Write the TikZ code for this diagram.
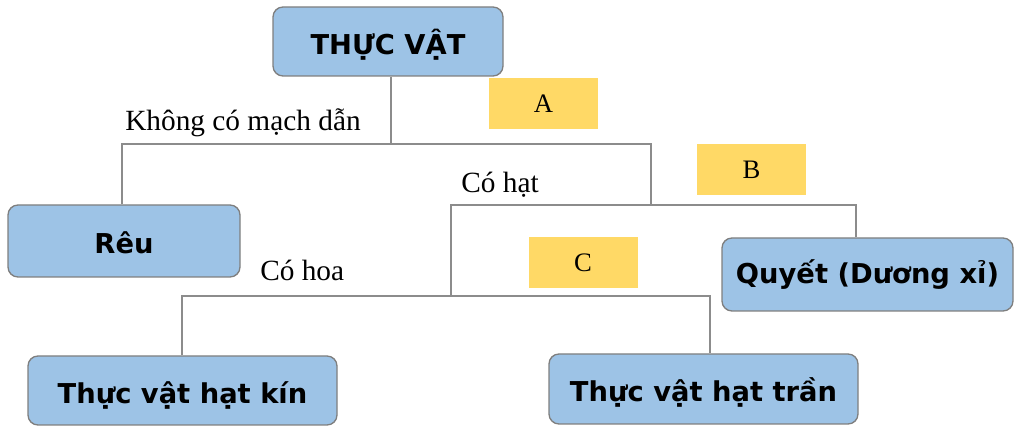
\documentclass[tikz,border=0pt]{standalone}
\usepackage{fontspec}
\setmainfont{Liberation Serif}
\newfontfamily\boxfont{DejaVu Sans}
\definecolor{boxblue}{HTML}{9DC3E6}
\definecolor{boxedge}{HTML}{7F7F7F}
\definecolor{tagyellow}{HTML}{FFD966}
\definecolor{linegrey}{HTML}{8C8C8C}
\begin{document}
\begin{tikzpicture}[x=0.75pt,y=-0.75pt,
  taxon/.style={draw=boxedge,line width=1pt,fill=boxblue,rounded corners=7.5pt,
    inner sep=0pt,text height=19.5pt,text depth=0pt,
    font=\boxfont\bfseries\fontsize{20.5}{24}\selectfont},
  tag/.style={fill=tagyellow,inner sep=0pt,minimum width=81.75pt,minimum height=38.75pt,
    font=\fontsize{20}{24}\selectfont},
  branch/.style={font=\fontsize{22}{26}\selectfont,inner sep=0pt,anchor=west},
  link/.style={draw=linegrey,line width=1.3pt}]
\useasboundingbox (0,0) rectangle (1015,427);

% taxa boxes
\node[taxon,minimum width=172.5pt,minimum height=51.75pt] (root) at (388,41.5) {THỰC VẬT};
\node[taxon,minimum width=174pt,minimum height=54pt] (reu) at (124,241) {Rêu};
\node[taxon,minimum width=218.25pt,minimum height=54.75pt,text height=14pt] (quyet) at (867.5,274.5) {Quyết (Dương xỉ)};
\node[taxon,minimum width=231.75pt,minimum height=51.75pt] (kin) at (182.5,390.5) {Thực vật hạt kín};
\node[taxon,minimum width=231.75pt,minimum height=52.5pt] (tran) at (703.5,389) {Thực vật hạt trần};

% letter tags
\node[tag] (tA) at (543.5,103.5) {A};
\node[tag] (tB) at (751.5,169.5) {B};
\node[tag] (tC) at (583,262.5) {C};

% branch junctions
\coordinate (j1) at (391,144);
\coordinate (j1l) at (122,144);
\coordinate (j1r) at (651,144);
\coordinate (j2) at (651,205);
\coordinate (j2l) at (451,205);
\coordinate (j2r) at (856,205);
\coordinate (j3) at (451,296);
\coordinate (j3l) at (182,296);
\coordinate (j3r) at (710,296);

% connectors
\draw[link] (root.south -| j1) -- (j1);
\draw[link] (reu.north -| j1l) -- (j1l) -- (j1r) -- (j2);
\draw[link] (quyet.north -| j2r) -- (j2r) -- (j2l) -- (j3);
\draw[link] (kin.north -| j3l) -- (j3l) -- (j3r) -- (tran.north -| j3r);

% branch labels
\node[branch] (l1) at (125,123) {Không có mạch dẫn};
\node[branch] (l2) at (461,185) {Có hạt};
\node[branch] (l3) at (260,270) {Có hoa};
\end{tikzpicture}
\end{document}
